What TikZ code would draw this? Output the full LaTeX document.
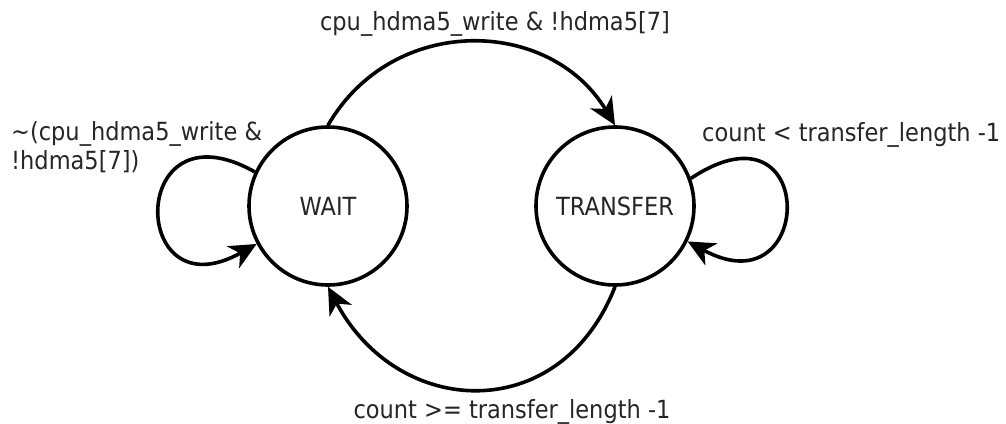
\documentclass[tikz,border=0pt]{standalone}
\usepackage{fontspec}
\setmainfont{DejaVu Sans}[FakeStretch=0.9]
\usetikzlibrary{arrows.meta}
\begin{document}
\begin{tikzpicture}[x=1pt,y=-1pt,
  every node/.style={font=\fontsize{25}{29}\selectfont, text=black!85},
  state/.style={circle, draw=black, line width=3.6pt, minimum size=158pt, inner sep=0pt},
  trans/.style={draw=black, line width=3.6pt,
    -{Stealth[length=27pt,width=25pt,inset=8pt]}},
  lbl/.style={inner sep=0pt}]
  \fill[white] (0,0) rectangle (1006,423);
  \useasboundingbox (0,0) rectangle (1006,423);

  % states
  \node[state] (wait) at (328,206) {WAIT};
  \node[state] (xfer) at (615,206) {TRANSFER};

  % WAIT -> TRANSFER (y axis points down, so upward offsets are negative)
  \draw[trans] (wait.north) .. controls +(65,-112) and +(-65,-108) .. (xfer.north);
  \node[lbl] (lwx) at (495,24) {cpu\_hdma5\_write \& !hdma5[7]};

  % TRANSFER -> WAIT
  \draw[trans] (xfer.south) .. controls +(-55,140) and +(70,132) .. (wait.south);
  \node[lbl] (lxw) at (512,412) {count >= transfer\_length -1};

  % WAIT self loop
  \draw[trans] (wait.155) .. controls +(-128,-72) and +(-128,72) .. (wait.208);
  \node[lbl, align=left, anchor=north west] (lww) at (11,121)
    {\textasciitilde(cpu\_hdma5\_write \&\\!hdma5[7])};

  % TRANSFER self loop
  \draw[trans] (xfer.20) .. controls +(128,-85) and +(128,70) .. (xfer.-26);
  \node[lbl, anchor=west] (lxx) at (702,135) {count < transfer\_length -1};
\end{tikzpicture}
\end{document}
